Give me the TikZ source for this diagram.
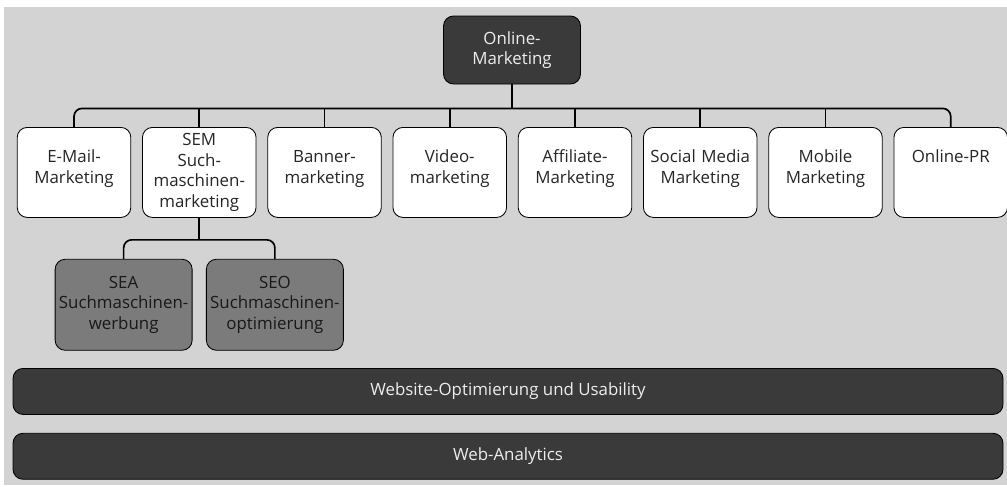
\documentclass[tikz,border=0pt]{standalone}
\usepackage{fontspec}
\setsansfont{Open Sans}
\usetikzlibrary{positioning,calc,backgrounds}

\definecolor{hgrau}{HTML}{D3D3D3}
\definecolor{dunkel}{HTML}{3A3A3A}
\definecolor{mittel}{HTML}{7B7B7B}
\definecolor{hell}{HTML}{EDEDED}

\begin{document}
\begin{tikzpicture}[
	font=\fontsize{12pt}{14.5pt}\selectfont\sffamily,
	node distance=2.7mm,
	kasten/.style={
		draw,
		line width=0.6pt,
		rounded corners=2.5mm,
		align=center,
	},
	rootbox/.style={
		kasten,
		fill=dunkel,
		text=hell,
		minimum width=34.25mm,
		minimum height=17mm,
	},
	leafbox/.style={
		kasten,
		fill=white,
		text=black!85,
		text width=26.4mm,
		inner xsep=1mm,
		inner ysep=3.875mm,
		text height=5mm,
		text depth=9.75mm,
	},
	bigleaf/.style={
		kasten,
		fill=white,
		text=black!85,
		text width=26.4mm,
		inner xsep=1mm,
		inner ysep=0.5mm,
		minimum height=22.5mm,
	},
	subbox/.style={
		kasten,
		fill=mittel,
		text=black!90,
		minimum width=34.25mm,
		minimum height=22.75mm,
		inner sep=0.5mm,
	},
	barbox/.style={
		kasten,
		fill=dunkel,
		text=hell,
		minimum width=247.5mm,
		minimum height=11.5mm,
	},
	busline/.style={line width=1.2pt, rounded corners=2mm},
]

\useasboundingbox (0,0) rectangle (251.75mm,-121.5mm);

% Wurzel
\node[rootbox] (online) at (128mm,-12.5mm) {Online-\\Marketing};
\coordinate[below=6mm of online.south] (bus);

% Disziplinen des Online-Marketings
\node[leafbox, anchor=north west] (email) at (4.2mm,-31.75mm) {E-Mail-\\Marketing};
\node[bigleaf, right=of email] (sem) {SEM\\Such-\\maschinen-\\marketing};
\node[leafbox, right=of sem] (banner) {Banner-\\marketing};
\node[leafbox, right=of banner] (video) {Video-\\marketing};
\node[leafbox, right=of video] (affiliate) {Affiliate-\\Marketing};
\node[leafbox, right=of affiliate] (social) {Social Media\\Marketing};
\node[leafbox, right=of social] (mobile) {Mobile\\Marketing};
\node[leafbox, right=of mobile] (onlinepr) {Online-PR};

% SEM aufgeteilt in SEA und SEO
\coordinate[below=5.5mm of sem.south] (subbus);
\node[subbox, below left=4.75mm and 1.675mm of subbus] (sea) {SEA\\Suchmaschinen-\\werbung};
\node[subbox, right=3.35mm of sea] (seo) {SEO\\Suchmaschinen-\\optimierung};

% Querschnittsthemen
\node[barbox, anchor=north] (website) at (127mm,-92mm) {Website-Optimierung und Usability};
\node[barbox, below=4.5mm of website] (analytics) {Web-Analytics};

% Verbindungen
\draw[busline] (online.south) -- (bus);
\draw[busline] (email.north) |- (bus -| onlinepr.north) -- (onlinepr.north);
\foreach \n in {sem,banner,video,affiliate,social,mobile}
	\draw[busline] (\n.north) -- (\n.north |- bus);
\draw[busline] (sem.south) -- (subbus);
\draw[busline] (sea.north) |- (subbus) -| (seo.north);

% Hintergrund
\begin{scope}[on background layer]
\fill[hgrau] (1mm,-1.75mm) rectangle (251.75mm,-121.25mm);
\end{scope}

\end{tikzpicture}
\end{document}
